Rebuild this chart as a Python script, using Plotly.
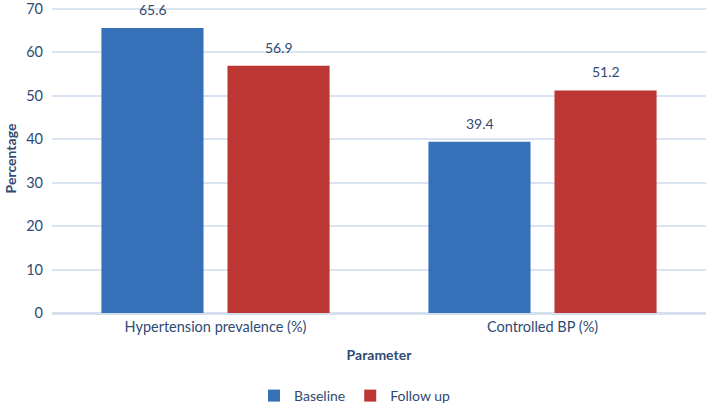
import plotly.graph_objects as go

categories = ["Hypertension prevalence (%)", "Controlled BP (%)"]
baseline = [65.6, 39.4]
follow_up = [56.9, 51.2]
y_ticks = [0, 10, 20, 30, 40, 50, 60, 70]

FONT = "Lato, Carlito, 'Open Sans', sans-serif"
TXT = "#2F4A74"

fig = go.Figure()
fig.add_trace(go.Bar(
    name="Baseline", x=categories, y=baseline,
    marker=dict(color="#3570B8", line=dict(width=0)),
))
fig.add_trace(go.Bar(
    name="Follow up", x=categories, y=follow_up,
    marker=dict(color="#BC3634", line=dict(width=0)),
))

# value labels above bars
for series, shift in ((baseline, -63), (follow_up, 63)):
    for cat, v in zip(categories, series):
        fig.add_annotation(x=cat, y=v, text=f"{v:.1f}", showarrow=False,
                           xshift=shift, yshift=8, yanchor="bottom",
                           font=dict(size=14, color=TXT, family=FONT))

fig.update_layout(
    width=710, height=412,
    margin=dict(l=52, r=4, t=4, b=99, autoexpand=False),
    paper_bgcolor="white", plot_bgcolor="white",
    font=dict(family=FONT, size=14, color=TXT),
    barmode="group", bargap=0.229, bargroupgap=0.19,
    showlegend=True,
    legend=dict(orientation="h", xref="container", x=0.5, xanchor="center",
                yref="container", y=0.0, yanchor="bottom",
                font=dict(size=14, color=TXT), traceorder="normal", itemwidth=30),
    xaxis=dict(
        title=dict(text="<b>Parameter</b>", font=dict(size=14, color=TXT), standoff=16),
        showline=True, linecolor="#D5E0EF", linewidth=2,
        tickfont=dict(size=14.5, color=TXT), ticks="",
    ),
    yaxis=dict(
        title=dict(text="<b>Percentage</b>", font=dict(size=14, color=TXT), standoff=6),
        range=[0, 71.1], tickmode="array", tickvals=y_ticks, ticktext=[str(t) for t in y_ticks],
        showgrid=True, gridcolor="#D9E3F1", gridwidth=1.5,
        zeroline=True, zerolinecolor="#D5E0EF", zerolinewidth=2,
        tickfont=dict(size=14.5, color=TXT), ticks="", ticklabelstandoff=8,
        ticklabeloverflow="allow",
    ),
)

fig.write_html("out.html")
